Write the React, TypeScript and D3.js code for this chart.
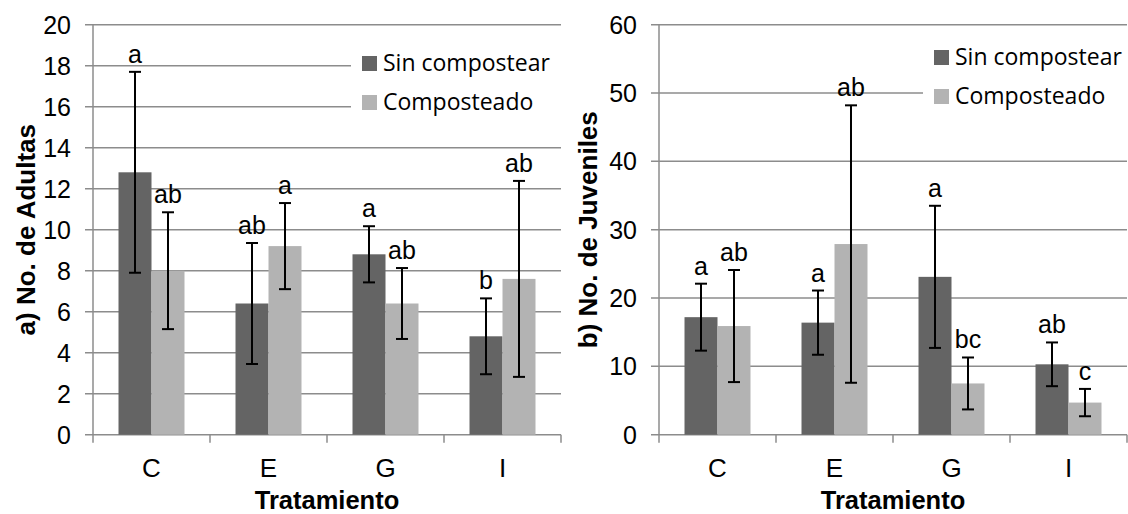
import React, { useEffect, useRef } from "react";
import * as d3 from "d3";

const categories = ["C", "E", "G", "I"];
const seriesNames = ["Sin compostear", "Composteado"];

// a) adults
const adultasSin = [12.8, 6.4, 8.8, 4.8];
const adultasSinErr = [4.9, 2.95, 1.37, 1.85];
const adultasCom = [8.0, 9.2, 6.4, 7.6];
const adultasComErr = [2.85, 2.1, 1.73, 4.78];
const adultasSinLetters = ["a", "ab", "a", "b"];
const adultasComLetters = ["ab", "a", "ab", "ab"];
const adultasTicks = [0, 2, 4, 6, 8, 10, 12, 14, 16, 18, 20];

// b) juveniles
const juvenilesSin = [17.2, 16.4, 23.1, 10.3];
const juvenilesSinErr = [4.9, 4.7, 10.4, 3.2];
const juvenilesCom = [15.9, 27.9, 7.5, 4.7];
const juvenilesComErr = [8.2, 20.3, 3.8, 2.0];
const juvenilesSinLetters = ["a", "a", "a", "ab"];
const juvenilesComLetters = ["ab", "ab", "bc", "c"];
const juvenilesTicks = [0, 10, 20, 30, 40, 50, 60];

const colors = ["#646464", "#b3b3b3"];
const gridColor = "#8c8c8c";
const tickFont = "Arial, 'Liberation Sans', sans-serif";
const legendFont = "'Open Sans', sans-serif";

const drawPanel = (svg, cfg) => {
  const { left, right, top, bottom, ticks, yTitle, sin, sinErr, com, comErr, sinLetters, comLetters, legend } = cfg;
  const g = svg.append("g");

  const x0 = d3.scaleBand().domain(categories).range([left, right]).paddingInner(0.436).paddingOuter(0.218);
  const x1 = d3.scaleBand().domain([0, 1]).range([0, x0.bandwidth()]);
  const y = d3.scaleLinear().domain([0, d3.max(ticks)]).range([bottom, top]);

  // gridlines with small left ticks
  g.selectAll(".grid")
    .data(ticks)
    .enter()
    .append("line")
    .attr("x1", left - 8)
    .attr("x2", right)
    .attr("y1", (d) => y(d))
    .attr("y2", (d) => y(d))
    .attr("stroke", gridColor)
    .attr("stroke-width", 1.5);

  g.selectAll(".ytick")
    .data(ticks)
    .enter()
    .append("text")
    .attr("x", left - 22)
    .attr("y", (d) => y(d))
    .attr("dy", "0.36em")
    .attr("text-anchor", "end")
    .style("font-family", tickFont)
    .style("font-size", "25px")
    .text((d) => d);

  // axes
  g.append("line")
    .attr("x1", left).attr("x2", left)
    .attr("y1", top).attr("y2", bottom)
    .attr("stroke", gridColor).attr("stroke-width", 1.5);

  const xTicks = categories.map((c) => x0(c) - (x0.step() - x0.bandwidth()) / 2).concat([right]);
  g.selectAll(".xtick")
    .data(xTicks)
    .enter()
    .append("line")
    .attr("x1", (d) => d).attr("x2", (d) => d)
    .attr("y1", bottom).attr("y2", bottom + 8)
    .attr("stroke", gridColor).attr("stroke-width", 1.5);

  // legend box (white background hides gridlines)
  g.append("rect")
    .attr("x", legend.x).attr("y", legend.y)
    .attr("width", right - legend.x + 1).attr("height", 80)
    .attr("fill", "white");
  seriesNames.forEach((name, i) => {
    g.append("rect")
      .attr("x", legend.x + 11)
      .attr("y", legend.y + 16 + i * 39)
      .attr("width", 15).attr("height", 15)
      .attr("fill", colors[i]);
    g.append("text")
      .attr("x", legend.x + 32)
      .attr("y", legend.y + 31 + i * 39)
      .style("font-family", legendFont)
      .style("font-size", "23px")
      .text(name);
  });

  const series = [
    { vals: sin, err: sinErr, letters: sinLetters },
    { vals: com, err: comErr, letters: comLetters },
  ];

  series.forEach((s, si) => {
    const cx = (i) => x0(categories[i]) + x1(si) + x1.bandwidth() / 2;
    g.selectAll(`.bar${si}`)
      .data(s.vals)
      .enter()
      .append("rect")
      .attr("x", (d, i) => x0(categories[i]) + x1(si))
      .attr("y", (d) => y(d))
      .attr("width", x1.bandwidth())
      .attr("height", (d) => bottom - y(d))
      .attr("fill", colors[si]);

    s.vals.forEach((v, i) => {
      const hi = y(v + s.err[i]);
      const lo = y(v - s.err[i]);
      g.append("line")
        .attr("x1", cx(i)).attr("x2", cx(i))
        .attr("y1", hi).attr("y2", lo)
        .attr("stroke", "black").attr("stroke-width", 2);
      [hi, lo].forEach((yy) => {
        g.append("line")
          .attr("x1", cx(i) - 6).attr("x2", cx(i) + 6)
          .attr("y1", yy).attr("y2", yy)
          .attr("stroke", "black").attr("stroke-width", 2);
      });
      g.append("text")
        .attr("x", cx(i))
        .attr("y", hi - 9)
        .attr("text-anchor", "middle")
        .style("font-family", tickFont)
        .style("font-size", "25px")
        .text(s.letters[i]);
    });
  });

  // category labels
  g.selectAll(".cat")
    .data(categories)
    .enter()
    .append("text")
    .attr("x", (d) => x0(d) + x0.bandwidth() / 2)
    .attr("y", bottom + 42)
    .attr("text-anchor", "middle")
    .style("font-family", tickFont)
    .style("font-size", "26px")
    .text((d) => d);

  g.append("text")
    .attr("x", (left + right) / 2)
    .attr("y", 509)
    .attr("text-anchor", "middle")
    .style("font-family", tickFont)
    .style("font-size", "25.5px")
    .style("font-weight", "bold")
    .text("Tratamiento");

  g.append("text")
    .attr("transform", `translate(${cfg.yTitleX},${(top + bottom) / 2}) rotate(-90)`)
    .attr("dy", "0.36em")
    .attr("text-anchor", "middle")
    .style("font-family", tickFont)
    .style("font-size", "26px")
    .style("font-weight", "bold")
    .text(yTitle);
};

const App = () => {
  const svgRef = useRef();

  useEffect(() => {
    const svg = d3.select(svgRef.current);
    svg.selectAll("*").remove();

    drawPanel(svg, {
      left: 93, right: 561, top: 24.7, bottom: 434.7,
      ticks: adultasTicks, yTitle: "a) No. de Adultas", yTitleX: 26,
      sin: adultasSin, sinErr: adultasSinErr, com: adultasCom, comErr: adultasComErr,
      sinLetters: adultasSinLetters, comLetters: adultasComLetters,
      legend: { x: 351, y: 40 },
    });

    drawPanel(svg, {
      left: 659, right: 1127, top: 24.7, bottom: 434.7,
      ticks: juvenilesTicks, yTitle: "b) No. de Juveniles", yTitleX: 588,
      sin: juvenilesSin, sinErr: juvenilesSinErr, com: juvenilesCom, comErr: juvenilesComErr,
      sinLetters: juvenilesSinLetters, comLetters: juvenilesComLetters,
      legend: { x: 923, y: 34 },
    });
  }, []);

  return (
    <div>
      <style>{`body{margin:0}`}</style>
      <svg ref={svgRef} width={1128} height={514} style={{ display: "block", background: "white" }} />
    </div>
  );
};

export default App;
